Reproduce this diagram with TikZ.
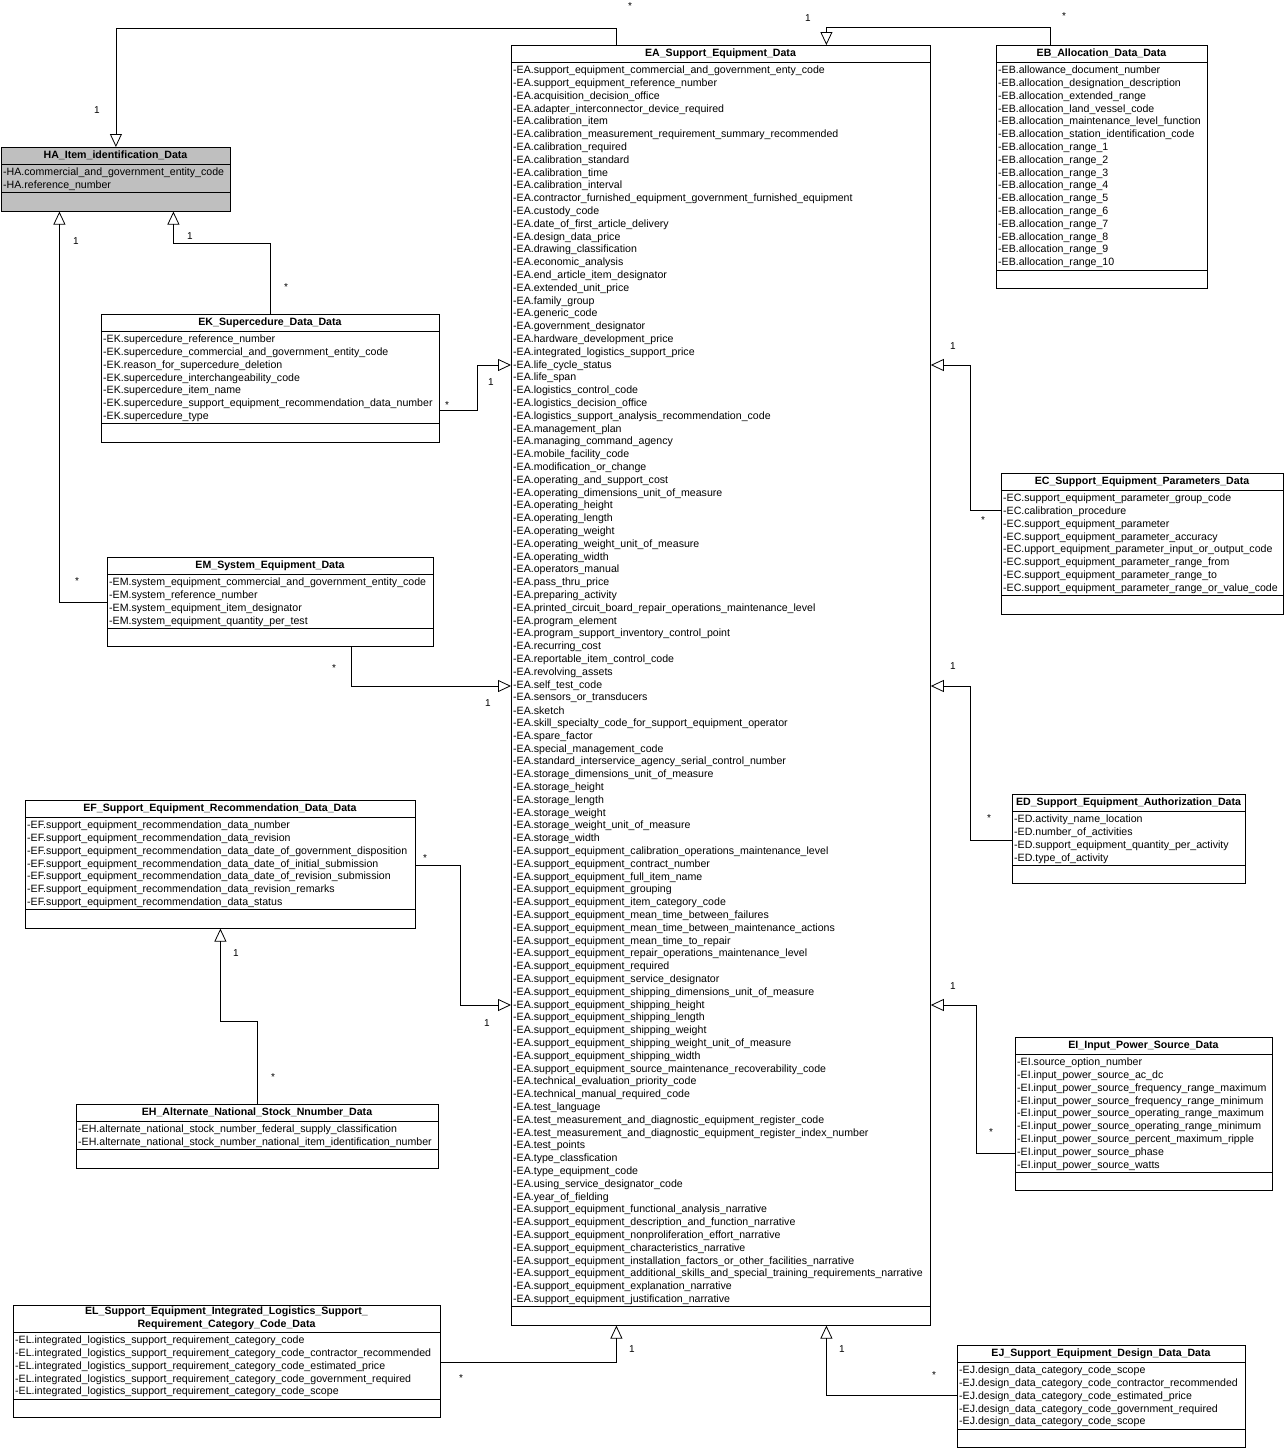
\documentclass[tikz,border=0pt]{standalone}
\usepackage{fontspec}
\setmainfont{Liberation Sans}
\usetikzlibrary{arrows.meta}
\catcode`\_=12

\tikzset{
  attr/.style={anchor=west, inner sep=0pt, font=\fontsize{10.6}{12}\selectfont},
  title/.style={inner sep=0pt, align=center, font=\fontsize{10.6}{12.8}\selectfont\bfseries},
  mult/.style={inner sep=0pt, font=\fontsize{10}{12}\selectfont},
  gen/.style={line width=0.8pt, -{Triangle[open, length=13pt, width=12pt]}}
}

% #1 fill, #2 name, #3 left, #4 top, #5 right, #6 title height, #7 lines, #8 title, #9 attributes
\newcommand\umlclass[9][white]{%
  \pgfmathsetmacro\ya{#4+#6}
  \pgfmathsetmacro\yb{\ya+9}
  \pgfmathsetmacro\yc{\yb+(#7-1)*12.8+7}
  \pgfmathsetmacro\yd{\yc+18}
  \node[draw, line width=0.8pt, fill=#1, anchor=north west, inner sep=0pt,
        minimum width={(#5-#3)*1pt}, minimum height={(\yd-#4)*1pt}] (#2) at (#3,#4) {};
  \draw[line width=0.8pt] (#3,\ya) -- (#5,\ya);
  \draw[line width=0.8pt] (#3,\yc) -- (#5,\yc);
  \node[title] (#2-t) at ({(#3+#5)/2},{#4+#6/2}) {#8};
  \foreach \t [count=\i from 0] in {#9}
    \node[attr] (#2-\i) at (#3+2,\yb+\i*12.8) {\t};
}

\begin{document}
\begin{tikzpicture}[x=1pt, y=-1pt]
    \useasboundingbox[fill=white] (0,0) rectangle (1285,1448);

    % classes
    \umlclass[gray!50]{HA}{1}{147}{230}{17}{2}{HA_Item_identification_Data}{-HA.commercial_and_government_entity_code,-HA.reference_number}

    \umlclass{EA}{511}{45}{930}{17}{97}{EA_Support_Equipment_Data}{%
      -EA.support_equipment_commercial_and_government_enty_code,
      -EA.support_equipment_reference_number,
      -EA.acquisition_decision_office,
      -EA.adapter_interconnector_device_required,
      -EA.calibration_item,
      -EA.calibration_measurement_requirement_summary_recommended,
      -EA.calibration_required,
      -EA.calibration_standard,
      -EA.calibration_time,
      -EA.calibration_interval,
      -EA.contractor_furnished_equipment_government_furnished_equipment,
      -EA.custody_code,
      -EA.date_of_first_article_delivery,
      -EA.design_data_price,
      -EA.drawing_classification,
      -EA.economic_analysis,
      -EA.end_article_item_designator,
      -EA.extended_unit_price,
      -EA.family_group,
      -EA.generic_code,
      -EA.government_designator,
      -EA.hardware_development_price,
      -EA.integrated_logistics_support_price,
      -EA.life_cycle_status,
      -EA.life_span,
      -EA.logistics_control_code,
      -EA.logistics_decision_office,
      -EA.logistics_support_analysis_recommendation_code,
      -EA.management_plan,
      -EA.managing_command_agency,
      -EA.mobile_facility_code,
      -EA.modification_or_change,
      -EA.operating_and_support_cost,
      -EA.operating_dimensions_unit_of_measure,
      -EA.operating_height,
      -EA.operating_length,
      -EA.operating_weight,
      -EA.operating_weight_unit_of_measure,
      -EA.operating_width,
      -EA.operators_manual,
      -EA.pass_thru_price,
      -EA.preparing_activity,
      -EA.printed_circuit_board_repair_operations_maintenance_level,
      -EA.program_element,
      -EA.program_support_inventory_control_point,
      -EA.recurring_cost,
      -EA.reportable_item_control_code,
      -EA.revolving_assets,
      -EA.self_test_code,
      -EA.sensors_or_transducers,
      -EA.sketch,
      -EA.skill_specialty_code_for_support_equipment_operator,
      -EA.spare_factor,
      -EA.special_management_code,
      -EA.standard_interservice_agency_serial_control_number,
      -EA.storage_dimensions_unit_of_measure,
      -EA.storage_height,
      -EA.storage_length,
      -EA.storage_weight,
      -EA.storage_weight_unit_of_measure,
      -EA.storage_width,
      -EA.support_equipment_calibration_operations_maintenance_level,
      -EA.support_equipment_contract_number,
      -EA.support_equipment_full_item_name,
      -EA.support_equipment_grouping,
      -EA.support_equipment_item_category_code,
      -EA.support_equipment_mean_time_between_failures,
      -EA.support_equipment_mean_time_between_maintenance_actions,
      -EA.support_equipment_mean_time_to_repair,
      -EA.support_equipment_repair_operations_maintenance_level,
      -EA.support_equipment_required,
      -EA.support_equipment_service_designator,
      -EA.support_equipment_shipping_dimensions_unit_of_measure,
      -EA.support_equipment_shipping_height,
      -EA.support_equipment_shipping_length,
      -EA.support_equipment_shipping_weight,
      -EA.support_equipment_shipping_weight_unit_of_measure,
      -EA.support_equipment_shipping_width,
      -EA.support_equipment_source_maintenance_recoverability_code,
      -EA.technical_evaluation_priority_code,
      -EA.technical_manual_required_code,
      -EA.test_language,
      -EA.test_measurement_and_diagnostic_equipment_register_code,
      -EA.test_measurement_and_diagnostic_equipment_register_index_number,
      -EA.test_points,
      -EA.type_classfication,
      -EA.type_equipment_code,
      -EA.using_service_designator_code,
      -EA.year_of_fielding,
      -EA.support_equipment_functional_analysis_narrative,
      -EA.support_equipment_description_and_function_narrative,
      -EA.support_equipment_nonproliferation_effort_narrative,
      -EA.support_equipment_characteristics_narrative,
      -EA.support_equipment_installation_factors_or_other_facilities_narrative,
      -EA.support_equipment_additional_skills_and_special_training_requirements_narrative,
      -EA.support_equipment_explanation_narrative,
      -EA.support_equipment_justification_narrative}

    \umlclass{EB}{996}{45}{1207}{17}{16}{EB_Allocation_Data_Data}{%
      -EB.allowance_document_number,
      -EB.allocation_designation_description,
      -EB.allocation_extended_range,
      -EB.allocation_land_vessel_code,
      -EB.allocation_maintenance_level_function,
      -EB.allocation_station_identification_code,
      -EB.allocation_range_1,-EB.allocation_range_2,-EB.allocation_range_3,
      -EB.allocation_range_4,-EB.allocation_range_5,-EB.allocation_range_6,
      -EB.allocation_range_7,-EB.allocation_range_8,-EB.allocation_range_9,
      -EB.allocation_range_10}

    \umlclass{EK}{101}{314}{439}{17}{7}{EK_Supercedure_Data_Data}{%
      -EK.supercedure_reference_number,
      -EK.supercedure_commercial_and_government_entity_code,
      -EK.reason_for_supercedure_deletion,
      -EK.supercedure_interchangeability_code,
      -EK.supercedure_item_name,
      -EK.supercedure_support_equipment_recommendation_data_number,
      -EK.supercedure_type}

    \umlclass{EC}{1001}{473}{1283}{17}{8}{EC_Support_Equipment_Parameters_Data}{%
      -EC.support_equipment_parameter_group_code,
      -EC.calibration_procedure,
      -EC.support_equipment_parameter,
      -EC.support_equipment_parameter_accuracy,
      -EC.upport_equipment_parameter_input_or_output_code,
      -EC.support_equipment_parameter_range_from,
      -EC.support_equipment_parameter_range_to,
      -EC.support_equipment_parameter_range_or_value_code}

    \umlclass{EM}{107}{557}{433}{17}{4}{EM_System_Equipment_Data}{%
      -EM.system_equipment_commercial_and_government_entity_code,
      -EM.system_reference_number,
      -EM.system_equipment_item_designator,
      -EM.system_equipment_quantity_per_test}

    \umlclass{ED}{1012}{794}{1245}{17}{4}{ED_Support_Equipment_Authorization_Data}{%
      -ED.activity_name_location,
      -ED.number_of_activities,
      -ED.support_equipment_quantity_per_activity,
      -ED.type_of_activity}

    \umlclass{EF}{25}{800}{415}{17}{7}{EF_Support_Equipment_Recommendation_Data_Data}{%
      -EF.support_equipment_recommendation_data_number,
      -EF.support_equipment_recommendation_data_revision,
      -EF.support_equipment_recommendation_data_date_of_government_disposition,
      -EF.support_equipment_recommendation_data_date_of_initial_submission,
      -EF.support_equipment_recommendation_data_date_of_revision_submission,
      -EF.support_equipment_recommendation_data_revision_remarks,
      -EF.support_equipment_recommendation_data_status}

    \umlclass{EI}{1015}{1037}{1272}{17}{9}{EI_Input_Power_Source_Data}{%
      -EI.source_option_number,
      -EI.input_power_source_ac_dc,
      -EI.input_power_source_frequency_range_maximum,
      -EI.input_power_source_frequency_range_minimum,
      -EI.input_power_source_operating_range_maximum,
      -EI.input_power_source_operating_range_minimum,
      -EI.input_power_source_percent_maximum_ripple,
      -EI.input_power_source_phase,
      -EI.input_power_source_watts}

    \umlclass{EH}{76}{1104}{438}{17}{2}{EH_Alternate_National_Stock_Nnumber_Data}{%
      -EH.alternate_national_stock_number_federal_supply_classification,
      -EH.alternate_national_stock_number_national_item_identification_number}

    \umlclass{EL}{13}{1305}{440}{27}{5}{EL_Support_Equipment_Integrated_Logistics_Support_\\Requirement_Category_Code_Data}{%
      -EL.integrated_logistics_support_requirement_category_code,
      -EL.integrated_logistics_support_requirement_category_code_contractor_recommended,
      -EL.integrated_logistics_support_requirement_category_code_estimated_price,
      -EL.integrated_logistics_support_requirement_category_code_government_required,
      -EL.integrated_logistics_support_requirement_category_code_scope}

    \umlclass{EJ}{957}{1345}{1245}{17}{5}{EJ_Support_Equipment_Design_Data_Data}{%
      -EJ.design_data_category_code_scope,
      -EJ.design_data_category_code_contractor_recommended,
      -EJ.design_data_category_code_estimated_price,
      -EJ.design_data_category_code_government_required,
      -EJ.design_data_category_code_scope}

    % generalizations
    \draw[gen] ([xshift=-104.5]EA.north) -- ++(0,-17) -| (HA.north);
    \draw[gen] ([xshift=-51.5]EB.north) -- ++(0,-18) -| ([xshift=105.5]EA.north);
    \draw[gen] (EK.north) -- ++(0,-71) -| ([xshift=57.5]HA.south);
    \draw[gen] ([yshift=-45]EM.north west) -| ([xshift=-56.5]HA.south);
    \draw[gen] ([yshift=-96]EK.north east) -- ++(38,0) |- ([yshift=-320]EA.north west);
    \draw[gen] ([yshift=-37]EC.north west) -- ++(-31,0) |- ([yshift=-320]EA.north east);
    \draw[gen] ([xshift=81]EM.south) |- ([yshift=-641]EA.north west);
    \draw[gen] ([yshift=-46]ED.north west) -- ++(-42,0) |- ([yshift=-641]EA.north east);
    \draw[gen] ([yshift=-65]EF.north east) -- ++(45,0) |- ([yshift=-960]EA.north west);
    \draw[gen] ([yshift=-116]EI.north west) -- ++(-39,0) |- ([yshift=-960]EA.north east);
    \draw[gen] (EH.north) -- ++(0,-83) -| (EF.south);
    \draw[gen] ([yshift=-57]EL.north east) -| ([xshift=-104.5]EA.south);
    \draw[gen] ([yshift=-50]EJ.north west) -| ([xshift=105.5]EA.south);

    % multiplicities
    \node[mult] (m1a) at (630,6) {*};     \node[mult] (m1b) at (97,110) {1};
    \node[mult] (m2a) at (1064,16) {*};   \node[mult] (m2b) at (808,18) {1};
    \node[mult] (m3a) at (286,287) {*};   \node[mult] (m3b) at (190,236) {1};
    \node[mult] (m4a) at (77,581) {*};    \node[mult] (m4b) at (76,241) {1};
    \node[mult] (m5a) at (447,405) {*};   \node[mult] (m5b) at (491,382) {1};
    \node[mult] (m6a) at (983,520) {*};   \node[mult] (m6b) at (953,346) {1};
    \node[mult] (m7a) at (334,668) {*};   \node[mult] (m7b) at (488,703) {1};
    \node[mult] (m8a) at (989,818) {*};   \node[mult] (m8b) at (953,666) {1};
    \node[mult] (m9a) at (425,858) {*};   \node[mult] (m9b) at (487,1023) {1};
    \node[mult] (m10a) at (991,1132) {*}; \node[mult] (m10b) at (953,986) {1};
    \node[mult] (m11a) at (273,1077) {*}; \node[mult] (m11b) at (236,953) {1};
    \node[mult] (m12a) at (461,1378) {*}; \node[mult] (m12b) at (632,1349) {1};
    \node[mult] (m13a) at (934,1375) {*}; \node[mult] (m13b) at (842,1349) {1};

\end{tikzpicture}
\end{document}
